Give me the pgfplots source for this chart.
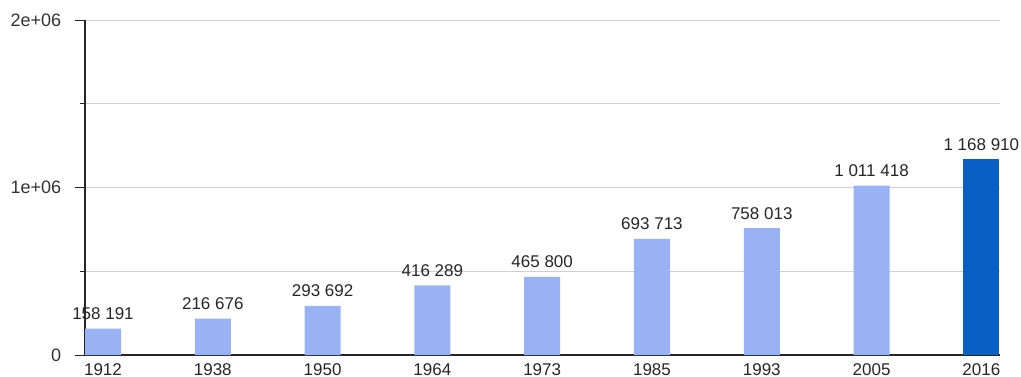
\documentclass[border=0pt]{standalone}
\usepackage{pgfplots}
\pgfplotsset{compat=1.18}
\usepackage{fontspec}
\setmainfont{Liberation Sans}
\definecolor{lightbar}{HTML}{98B2F4}
\definecolor{darkbar}{HTML}{0A5FC5}
\definecolor{gridc}{HTML}{CFCFCF}
\begin{document}
\fontsize{17bp}{20bp}\selectfont
\begin{tikzpicture}
\begin{axis}[
  scale only axis,
  width=915bp, height=335bp,
  xmin=-0.164, xmax=8.17,
  ymin=0, ymax=2000000,
  axis x line*=bottom, axis y line*=left,
  axis line style={draw=black!85, line width=1.1pt},
  xtick={0,...,8},
  xticklabels={1912,1938,1950,1964,1973,1985,1993,2005,2016},
  x tick style={draw=none},
  xticklabel style={inner sep=0pt, yshift=2bp, text=black!85, font=\fontsize{17bp}{20bp}\selectfont},
  ytick={0,1000000,2000000},
  yticklabels={0,1e+06,2e+06},
  minor ytick={500000,1500000},
  ymajorgrids, yminorgrids,
  major grid style={gridc, line width=0.7pt},
  minor grid style={gridc, line width=0.7pt},
  tick align=outside,
  major tick length=10bp, minor tick length=5bp,
  y tick style={black!85, line width=0.8pt},
  yticklabel style={text=black!80, xshift=-8bp, font=\fontsize{18bp}{21bp}\selectfont},
  scaled y ticks=false,
  ybar, bar width=36bp, bar shift=0pt,
  nodes near coords,
  point meta=explicit symbolic,
  every node near coord/.append style={text=black!85, font=\fontsize{17bp}{20bp}\selectfont, yshift=3bp},
  clip=false,
]
\addplot[fill=lightbar, draw=none] table[meta=lab, header=true, col sep=comma] {
x,y,lab
0,158191,158 191
1,216676,216 676
2,293692,293 692
3,416289,416 289
4,465800,465 800
5,693713,693 713
6,758013,758 013
7,1011418,1 011 418
};
\addplot[fill=darkbar, draw=none] table[meta=lab, header=true, col sep=comma] {
x,y,lab
8,1168910,1 168 910
};
\end{axis}
\pgfresetboundingbox
\path[use as bounding box] (-85bp,-22bp) rectangle (936bp,355bp);
\end{tikzpicture}
\end{document}
